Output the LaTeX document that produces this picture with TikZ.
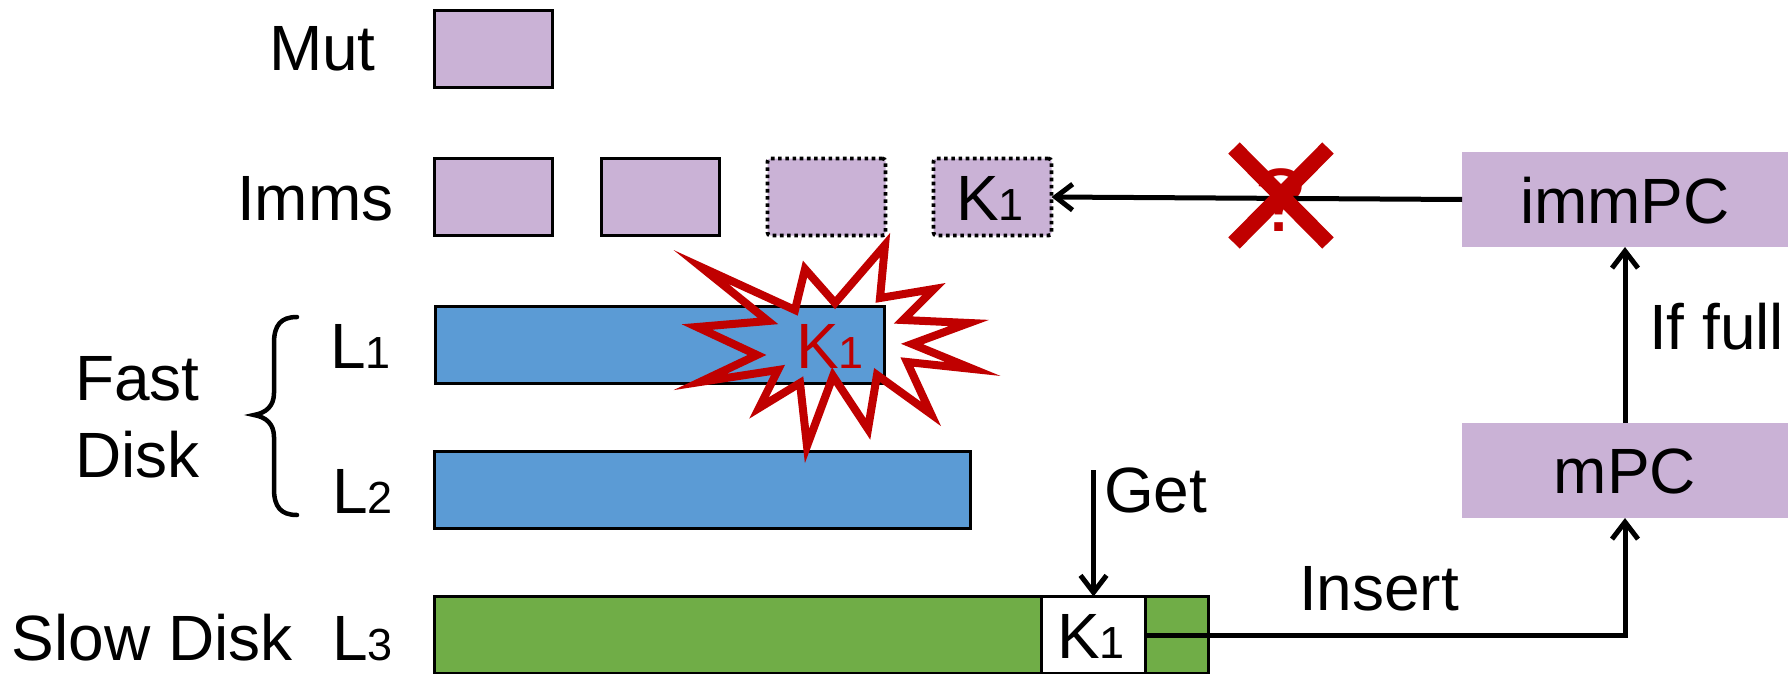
\documentclass[tikz,border=0pt]{standalone}
\usepackage{fontspec}
\setmainfont{Liberation Sans}
\usetikzlibrary{arrows.meta}

\definecolor{lilac}{RGB}{202,178,214}
\definecolor{diskblue}{RGB}{91,155,213}
\definecolor{diskgreen}{RGB}{112,173,71}
\definecolor{alarm}{RGB}{192,0,0}

\newcommand{\mainsize}{\fontsize{64}{70}\selectfont}
\newcommand{\ksub}[1]{{\fontsize{45}{50}\selectfont #1}}

\begin{document}
\begin{tikzpicture}[x=1pt, y=-1pt,
  txt/.style={inner sep=0pt, outer sep=0pt, font=\mainsize, anchor=base west},
  ctxt/.style={inner sep=0pt, outer sep=0pt, font=\mainsize, anchor=base},
  membox/.style={draw, line width=3pt, fill=lilac, minimum width=118pt,
    minimum height=77pt, inner sep=0pt, outer sep=0pt},
  ghostbox/.style={membox, line width=3.8pt, dash pattern=on 3.6pt off 3.6pt, rounded corners=3pt},
  levelbar/.style={draw, line width=3pt, minimum height=77pt, inner sep=0pt, outer sep=0pt},
  cachebox/.style={fill=lilac, minimum width=326pt, minimum height=95pt,
    inner sep=0pt, outer sep=0pt},
  link/.style={line width=5pt, -{Straight Barb[length=17pt, width=26pt]}}
]
\useasboundingbox (0,0) rectangle (1788,674);
\clip (0,0) rectangle (1788,674);

% row labels
\node[txt] (lmut)  at (269,71)  {Mut};
\node[txt] (limms) at (237,220) {Imms};
\node[txt] (lfast) at (75,400)  {Fast};
\node[txt] (ldisk) at (75,477)  {Disk};
\node[txt] (lslow) at (12,660)  {Slow Disk};
\node[txt] (ll1)   at (330,368) {L\ksub{1}};
\node[txt] (ll2)   at (332,513) {L\ksub{2}};
\node[txt] (ll3)   at (332,660) {L\ksub{3}};

% brace grouping the fast-disk levels
\draw[line width=4.5pt, line cap=round]
  (297,317) .. controls (281,317) and (274,325) .. (274,343) -- (274,393)
  .. controls (274,406) and (266,413) .. (254,415)
  .. controls (266,417) and (274,424) .. (274,437) -- (274,489)
  .. controls (274,507) and (281,515) .. (297,515);

% memtables
\node[membox] (mut)  at (493.5,49)  {};
\node[membox] (imm1) at (493.5,197) {};
\node[membox] (imm2) at (660,197)   {};
\node[ghostbox] (imm3) at (826.5,197) {};
\node[ghostbox] (imm4) at (992.5,197) {};
\node[ctxt] (k1imm) at (990,220) {K\ksub{1}};

% disk levels
\node[levelbar, fill=diskblue, minimum width=449pt] (l1) at (660,345) {};
\node[levelbar, fill=diskblue, minimum width=536pt] (l2) at (702.5,490) {};
\node[levelbar, fill=diskgreen, minimum width=774pt] (l3) at (821.5,635) {};
\node[levelbar, fill=white, minimum width=104pt] (k1box) at (1093.5,635) {};
\node[ctxt] (k1l3) at (1091,658) {K\ksub{1}};

% caches
\node[cachebox] (immpc) at (1625,199.5) {};
\node[ctxt] (immpct) at (1625,223) {immPC};
\node[cachebox] (mpc) at (1625,470.5) {};
\node[ctxt] (mpct) at (1625,493) {mPC};

% blocked path from immPC back to the memtable
\node[ctxt, text=alarm, font=\fontsize{90}{96}\selectfont] (qmark) at (1281,231) {?};
\draw[link] (immpc.west) -- (imm4.east);
\draw[alarm, line width=16pt]
  (1234,148) -- (1328,243)
  (1328,148) -- (1234,243);

% lookup and insertion
\coordinate (getstart) at (1093.5,470);
\draw[link] (getstart) -- (k1box.north);
\node[txt] (lget) at (1104,512) {Get};
\draw[link] (k1box.east) -| (mpc.south);
\node[txt] (lins) at (1299,610) {Insert};
\draw[link] (mpc.north) -- (immpc.south);
\node[txt] (lfull) at (1649,349) {If full};

% collision burst on L1 (vertices set back so the mitred tips land on the spike ends)
\draw[alarm, line width=8pt, line join=miter, miter limit=30]
  (701,267) -- (795,310) -- (805,269) -- (835,303) -- (885,245) -- (880,298)
  -- (934,289) -- (903,320) -- (969,323) -- (912,344) -- (973,369) -- (907,362)
  -- (931,414) -- (877,375) -- (868,429) -- (833,376) -- (807,446) -- (800,383)
  -- (759,408) -- (778,370) -- (700,382) -- (757,355) -- (697,327) -- (768,321)
  -- cycle;
\node[ctxt, text=alarm] (k1burst) at (830,368) {K\ksub{1}};
\end{tikzpicture}
\end{document}
